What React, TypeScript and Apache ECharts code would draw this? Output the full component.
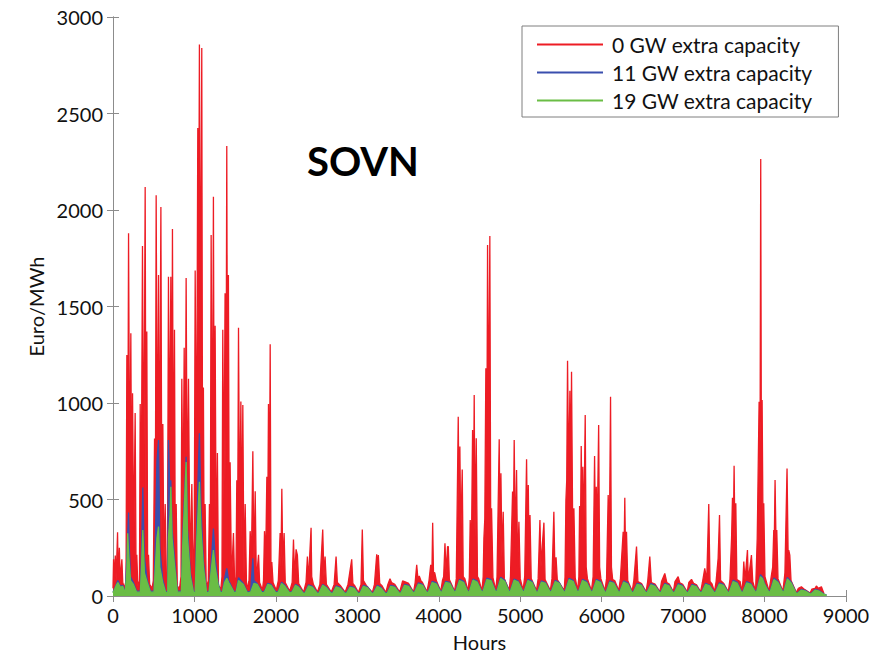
import React, { useEffect, useRef } from "react";
import * as echarts from "echarts";

const SERIES_NAMES = ["0 GW extra capacity", "11 GW extra capacity", "19 GW extra capacity"];
const SERIES_COLORS = ["#ed1c24", "#3a4fae", "#6abd45"];
const X_AXIS = { min: 0, max: 9000, interval: 1000 };
const Y_AXIS = { min: 0, max: 3000, interval: 500 };
const TITLE = "SOVN";

// [hour, Euro/MWh]
const RED: [number, number][] = [
  [0,40],[7,190],[14,70],[28,210],[38,80],[56,330],[64,90],[78,250],[88,80],[109,190],[120,70],[140,40],[160,80],
  [170,1249],[180,400],[191,1880],[205,500],[219,1362],[230,300],[240,1051],[255,250],[272,948],[282,200],[292,214],[305,50],[325,80],
  [334,995],[345,300],[362,1813],[378,500],[395,2119],[405,400],[415,1371],[425,200],[436,214],[450,60],[480,40],[495,80],
  [510,816],[520,400],[530,2077],[545,500],[559,1663],[570,400],[588,2015],[600,300],[612,891],[625,150],[641,477],[655,40],[668,80],
  [681,1654],[695,700],[710,1654],[720,500],[730,1902],[742,400],[755,1380],[765,150],[776,477],[790,40],[820,50],[835,100],
  [845,1126],[860,400],[874,1286],[886,500],[898,1648],[912,400],[927,1126],[945,150],[968,580],[985,50],[998,300],
  [1009,1687],[1025,500],[1041,2425],[1050,1500],[1061,2858],[1075,1200],[1090,2839],[1100,500],[1110,1080],[1120,150],[1131,477],[1145,40],[1170,80],
  [1184,477],[1195,300],[1205,1870],[1220,500],[1233,2068],[1244,400],[1254,1400],[1268,150],[1282,741],[1295,50],[1325,40],[1338,100],
  [1348,1380],[1362,500],[1376,1569],[1386,600],[1397,2331],[1408,500],[1417,1663],[1428,150],[1438,693],[1455,80],[1479,326],[1495,40],[1510,100],
  [1520,600],[1530,300],[1541,1390],[1555,350],[1570,1008],[1582,300],[1594,989],[1608,100],[1623,477],[1640,30],[1670,80],
  [1684,336],[1700,200],[1717,750],[1730,150],[1746,543],[1760,80],[1787,214],[1800,70],[1835,30],[1848,80],
  [1860,336],[1875,200],[1889,618],[1899,300],[1909,995],[1920,400],[1930,1305],[1940,100],[1950,176],[1965,70],[2005,30],[2030,80],
  [2052,326],[2062,150],[2073,556],[2085,150],[2101,326],[2115,70],[2170,25],[2200,70],
  [2216,292],[2230,100],[2248,242],[2264,212],[2280,65],[2340,20],[2370,70],
  [2387,204],[2400,80],[2432,354],[2440,100],[2460,60],[2510,20],[2540,60],
  [2575,345],[2590,100],[2604,204],[2620,60],[2680,20],[2715,60],
  [2739,204],[2755,70],[2790,55],[2850,20],[2885,60],
  [2931,190],[2945,65],[2965,55],[3015,18],[3045,60],
  [3061,345],[3075,80],[3110,55],[3185,18],[3210,60],
  [3238,216],[3250,150],[3258,212],[3275,65],[3300,55],[3350,18],[3375,60],
  [3401,90],[3420,70],[3460,60],[3520,20],[3545,60],
  [3556,78],[3580,75],[3630,65],[3690,20],[3710,70],
  [3729,161],[3745,85],[3760,104],[3780,80],[3800,70],[3855,22],[3880,80],
  [3901,161],[3915,100],[3925,380],[3935,120],[3950,121],[3970,80],[4025,25],[4045,80],
  [4060,100],[4076,273],[4090,120],[4108,256],[4117,256],[4130,85],[4195,25],[4215,90],
  [4239,929],[4250,400],[4259,774],[4270,300],[4288,656],[4300,100],[4320,90],[4360,25],[4375,95],
  [4386,394],[4400,200],[4415,860],[4425,400],[4435,1041],[4445,300],[4460,817],[4475,100],[4490,90],[4530,25],[4545,100],
  [4554,299],[4565,400],[4578,1180],[4590,700],[4599,1818],[4612,800],[4627,1865],[4638,300],[4648,454],[4665,95],[4700,30],[4715,100],
  [4742,812],[4752,300],[4763,636],[4775,200],[4791,437],[4805,90],[4865,30],[4880,100],
  [4906,541],[4915,300],[4926,808],[4940,250],[4955,653],[4968,150],[4984,385],[5000,90],[5035,30],[5055,100],
  [5078,708],[5090,250],[5099,575],[5110,150],[5120,420],[5135,90],[5200,28],[5220,90],
  [5242,394],[5255,150],[5270,256],[5291,380],[5305,85],[5370,28],[5390,90],
  [5413,437],[5425,150],[5440,200],[5455,85],[5540,28],[5550,100],
  [5561,497],[5571,600],[5581,1219],[5595,600],[5610,1064],[5620,500],[5630,1162],[5645,300],[5659,454],[5675,95],[5705,28],[5720,100],
  [5729,466],[5739,300],[5749,777],[5760,350],[5769,670],[5780,300],[5798,938],[5810,150],[5825,90],[5875,28],[5895,100],
  [5913,725],[5924,300],[5934,566],[5945,300],[5963,886],[5975,150],[5990,90],[6040,28],[6060,90],
  [6080,523],[6095,300],[6109,1033],[6120,150],[6135,85],[6160,80],[6210,28],[6230,90],
  [6264,333],[6274,200],[6284,509],[6295,150],[6305,333],[6320,80],[6375,25],[6395,80],
  [6428,256],[6445,75],[6490,65],[6545,22],[6565,75],
  [6591,204],[6610,70],[6655,62],[6715,22],[6735,75],
  [6775,117],[6800,70],[6830,62],[6880,22],[6900,75],
  [6939,100],[6960,68],[6995,60],[7050,22],[7070,70],
  [7103,86],[7130,65],[7165,58],[7215,22],[7237,70],
  [7266,143],[7290,80],[7315,477],[7330,75],[7355,62],[7385,22],[7405,75],
  [7430,195],[7447,420],[7460,80],[7500,65],[7555,22],[7575,85],
  [7595,300],[7606,509],[7616,300],[7626,675],[7636,300],[7647,480],[7660,85],[7700,75],[7720,22],[7735,80],
  [7745,178],[7760,80],[7790,238],[7800,80],[7839,212],[7855,75],[7890,25],[7910,300],
  [7933,1007],[7945,800],[7953,2264],[7960,900],[7970,1015],[7982,300],[7990,480],[8005,100],[8055,25],[8080,95],
  [8100,150],[8113,342],[8120,300],[8129,601],[8140,300],[8150,342],[8165,90],[8225,25],[8245,100],
  [8250,120],[8276,661],[8290,200],[8297,238],[8310,212],[8325,80],[8390,18],[8415,40],
  [8452,48],[8480,38],[8560,15],[8580,35],[8620,40],[8636,52],[8660,40],[8698,48],[8730,12]
];

const BLUE: [number, number][] = [
  [0,20],[40,60],[60,80],[90,50],[120,55],[150,20],
  [170,200],[191,432],[200,250],[215,100],[250,70],[290,25],
  [336,25],[354,300],[366,562],[385,200],[420,80],[460,25],
  [504,25],[520,300],[540,700],[559,808],[575,250],[610,90],[650,20],
  [672,25],[681,808],[700,500],[710,600],[725,350],[755,200],[790,25],
  [840,25],[855,300],[875,500],[898,722],[915,350],[950,120],[990,20],
  [1010,25],[1030,400],[1061,843],[1080,450],[1110,180],[1150,20],
  [1180,25],[1210,200],[1233,350],[1254,200],[1290,70],[1320,20],
  [1344,25],[1370,90],[1397,143],[1420,80],[1460,45],[1490,20],
  [1512,25],[1541,95],[1570,80],[1600,65],[1650,20],
  [1690,25],[1717,195],[1730,80],[1770,65],[1830,20],
  [1860,25],[1900,66],[1940,60],[2000,20],
  [2030,25],[2070,72],[2110,56],[2170,18],
  [2200,25],[2240,60],[2280,50],[2340,16],
  [2360,20],[2400,58],[2450,50],[2510,16],
  [2530,20],[2575,60],[2620,47],[2680,16],
  [2700,20],[2740,53],[2790,45],[2850,15],
  [2870,20],[2910,50],[2960,45],[3015,14],
  [3035,20],[3075,55],[3125,47],[3185,14],
  [3200,20],[3245,55],[3290,45],[3350,14],
  [3370,20],[3410,55],[3460,50],[3520,16],
  [3540,23],[3580,60],[3630,55],[3690,19],
  [3705,25],[3750,68],[3800,60],[3855,19],
  [3875,27],[3920,76],[3970,68],[4025,22],
  [4040,27],[4085,76],[4135,70],[4195,22],
  [4210,30],[4255,86],[4305,76],[4360,22],
  [4378,30],[4420,88],[4470,78],[4530,22],
  [4545,30],[4590,92],[4640,86],[4700,24],
  [4715,30],[4760,97],[4810,81],[4865,24],
  [4880,30],[4925,88],[4975,78],[5035,24],
  [5050,30],[5095,86],[5145,76],[5200,22],
  [5218,27],[5260,78],[5310,70],[5370,22],
  [5385,30],[5430,81],[5480,70],[5540,22],
  [5555,30],[5600,92],[5650,81],[5705,22],
  [5720,30],[5765,86],[5815,76],[5875,22],
  [5890,30],[5935,86],[5985,76],[6040,22],
  [6058,27],[6100,78],[6150,70],[6210,22],
  [6225,27],[6270,78],[6320,68],[6375,19],
  [6392,25],[6435,66],[6485,60],[6545,19],
  [6560,25],[6605,64],[6655,55],[6715,19],
  [6730,25],[6775,66],[6825,57],[6880,19],
  [6897,25],[6940,64],[6990,55],[7050,19],
  [7065,25],[7110,60],[7160,53],[7215,19],
  [7232,25],[7275,66],[7325,57],[7385,19],
  [7400,25],[7445,68],[7495,60],[7555,19],
  [7570,27],[7615,82],[7665,71],[7720,19],
  [7737,27],[7780,74],[7830,66],[7890,22],
  [7905,30],[7950,110],[7975,98],[8000,66],[8055,22],
  [8072,30],[8115,93],[8165,76],[8225,22],
  [8240,30],[8280,96],[8330,71],[8390,15],
  [8410,18],[8450,34],[8500,29],[8560,13],
  [8575,15],[8620,34],[8670,29],[8730,10],[8760,6]
];

const GREEN: [number, number][] = [
  [0,15],[40,55],[60,70],[90,45],[120,50],[150,15],
  [170,130],[180,325],[195,200],[215,80],[250,60],[290,20],
  [336,20],[350,150],[366,342],[385,120],[420,70],[460,20],
  [504,20],[520,150],[540,300],[559,360],[575,150],[610,70],[650,15],
  [672,20],[681,300],[700,420],[710,566],[725,300],[755,160],[790,20],
  [840,20],[855,250],[875,450],[898,694],[915,300],[950,100],[990,15],
  [1010,20],[1030,300],[1061,592],[1080,350],[1110,150],[1150,15],
  [1180,20],[1210,150],[1233,238],[1254,150],[1290,60],[1320,15],
  [1344,20],[1370,70],[1397,92],[1420,70],[1460,40],[1490,15],
  [1512,20],[1541,80],[1570,70],[1600,60],[1650,15],
  [1690,20],[1730,65],[1770,60],[1830,15],
  [1860,20],[1900,60],[1940,55],[2000,15],
  [2030,20],[2070,65],[2110,50],[2170,15],
  [2200,20],[2240,55],[2280,45],[2340,12],
  [2360,15],[2400,52],[2450,45],[2510,12],
  [2530,15],[2575,55],[2620,42],[2680,12],
  [2700,15],[2740,48],[2790,40],[2850,12],
  [2870,15],[2910,45],[2960,40],[3015,10],
  [3035,15],[3075,50],[3125,42],[3185,10],
  [3200,15],[3245,50],[3290,40],[3350,10],
  [3370,15],[3410,50],[3460,45],[3520,12],
  [3540,18],[3580,55],[3630,50],[3690,15],
  [3705,20],[3750,62],[3800,55],[3855,15],
  [3875,22],[3920,70],[3970,62],[4025,18],
  [4040,22],[4085,70],[4135,65],[4195,18],
  [4210,25],[4255,80],[4305,70],[4360,18],
  [4378,25],[4420,82],[4470,72],[4530,18],
  [4545,25],[4590,85],[4640,80],[4700,20],
  [4715,25],[4760,90],[4810,75],[4865,20],
  [4880,25],[4925,82],[4975,72],[5035,20],
  [5050,25],[5095,80],[5145,70],[5200,18],
  [5218,22],[5260,72],[5310,65],[5370,18],
  [5385,25],[5430,75],[5480,65],[5540,18],
  [5555,25],[5600,85],[5650,75],[5705,18],
  [5720,25],[5765,80],[5815,70],[5875,18],
  [5890,25],[5935,80],[5985,70],[6040,18],
  [6058,22],[6100,72],[6150,65],[6210,18],
  [6225,22],[6270,72],[6320,62],[6375,15],
  [6392,20],[6435,60],[6485,55],[6545,15],
  [6560,20],[6605,58],[6655,50],[6715,15],
  [6730,20],[6775,60],[6825,52],[6880,15],
  [6897,20],[6940,58],[6990,50],[7050,15],
  [7065,20],[7110,55],[7160,48],[7215,15],
  [7232,20],[7275,60],[7325,52],[7385,15],
  [7400,20],[7445,62],[7495,55],[7555,15],
  [7570,22],[7615,75],[7665,65],[7720,15],
  [7737,22],[7780,68],[7830,60],[7890,18],
  [7905,25],[7950,100],[7975,90],[8000,60],[8055,18],
  [8072,25],[8115,85],[8165,70],[8225,18],
  [8240,25],[8280,88],[8330,65],[8390,12],
  [8410,15],[8450,30],[8500,25],[8560,10],
  [8575,12],[8620,30],[8670,25],[8730,8],[8760,5]
];

const FONT = "Lato, 'Open Sans', sans-serif";
const AXIS_GRAY = "#8c8c8c";
const plain = (v: number) => String(v);

export default function App() {
  const ref = useRef<HTMLDivElement>(null);
  useEffect(() => {
    if (!ref.current) return;
    const chart = echarts.init(ref.current, null, { renderer: "svg" });
    const seriesData = [RED, BLUE, GREEN];
    const tickCommon = { show: true, inside: true, length: 6, lineStyle: { color: AXIS_GRAY } };
    chart.setOption({
      animation: false,
      backgroundColor: "#ffffff",
      title: {
        text: TITLE,
        left: 302,
        top: 136,
        textStyle: { fontFamily: FONT, fontWeight: "bold", fontSize: 40, color: "#000" },
      },
      legend: {
        orient: "vertical",
        left: 522,
        top: 26,
        padding: [8, 26, 6, 15],
        itemGap: 7,
        itemWidth: 66,
        itemHeight: 2,
        icon: "rect",
        backgroundColor: "#fff",
        borderColor: "#7f7f7f",
        borderWidth: 1,
        borderRadius: 0,
        textStyle: { fontFamily: FONT, fontSize: 21, color: "#111", padding: [0, 0, 0, 4] },
        data: SERIES_NAMES,
      },
      grid: { left: 113, right: 30, top: 17, bottom: 57, containLabel: false, outerBoundsMode: "none" },
      xAxis: [
        {
          type: "value",
          min: X_AXIS.min,
          max: X_AXIS.max,
          interval: X_AXIS.interval,
          name: "Hours",
          nameLocation: "middle",
          nameGap: 36,
          nameTextStyle: { fontFamily: FONT, fontSize: 20, color: "#111" },
          axisLine: { show: true, lineStyle: { color: AXIS_GRAY } },
          axisTick: tickCommon,
          axisLabel: { fontFamily: FONT, fontSize: 20, color: "#111", margin: 9, formatter: plain },
          splitLine: { show: false },
        },
        {
          type: "value",
          position: "top",
          min: X_AXIS.min,
          max: X_AXIS.max,
          interval: X_AXIS.interval,
          axisLine: { show: true, lineStyle: { color: AXIS_GRAY } },
          axisTick: tickCommon,
          axisLabel: { show: false },
          splitLine: { show: false },
        },
      ],
      yAxis: [
        {
          type: "value",
          min: Y_AXIS.min,
          max: Y_AXIS.max,
          interval: Y_AXIS.interval,
          name: "Euro/MWh",
          nameLocation: "middle",
          nameGap: 64,
          nameRotate: 90,
          nameTextStyle: { fontFamily: FONT, fontSize: 20, color: "#111" },
          axisLine: { show: true, lineStyle: { color: AXIS_GRAY } },
          axisTick: tickCommon,
          axisLabel: { fontFamily: FONT, fontSize: 20, color: "#111", margin: 10, formatter: plain },
          splitLine: { show: false },
        },
        {
          type: "value",
          position: "right",
          min: Y_AXIS.min,
          max: Y_AXIS.max,
          interval: Y_AXIS.interval,
          axisLine: { show: true, lineStyle: { color: AXIS_GRAY } },
          axisTick: tickCommon,
          axisLabel: { show: false },
          splitLine: { show: false },
        },
      ],
      series: SERIES_NAMES.map((name, i) => ({
        name,
        type: "line",
        xAxisIndex: 0,
        yAxisIndex: 0,
        data: seriesData[i],
        showSymbol: false,
        symbol: "none",
        color: SERIES_COLORS[i],
        lineStyle: { width: 1.3, color: SERIES_COLORS[i] },
        areaStyle: { color: SERIES_COLORS[i], opacity: 1 },
        z: 2 + i,
      })),
    });
    return () => chart.dispose();
  }, []);
  return (
    <div
      ref={ref}
      style={{ position: "fixed", left: 0, top: 0, width: 876, height: 653 }}
    />
  );
}
